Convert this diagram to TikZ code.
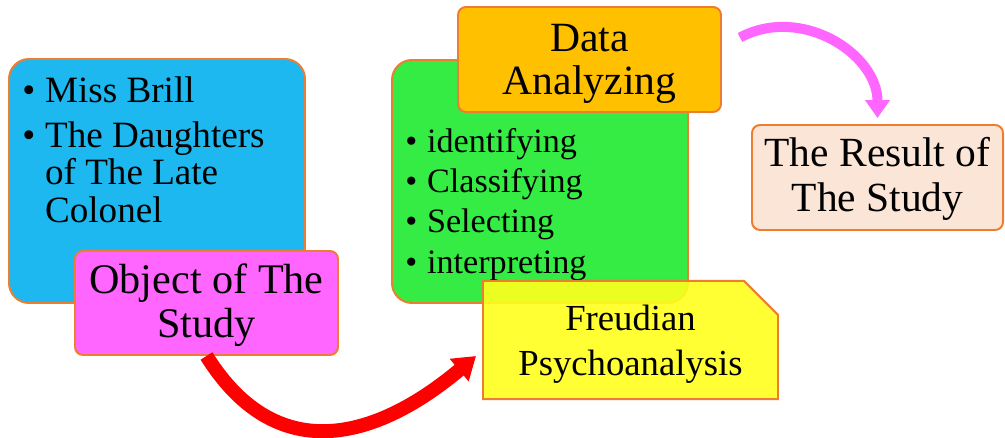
\documentclass[tikz,border=0pt]{standalone}
\usepackage{fontspec}
\setmainfont{Liberation Serif}
\usetikzlibrary{arrows.meta,shapes.misc,calc}
\definecolor{boxline}{HTML}{ED7D31}
\definecolor{skyfill}{HTML}{1CB8EF}
\definecolor{pinkfill}{HTML}{FF66FF}
\definecolor{greenfill}{HTML}{35EC44}
\definecolor{amberfill}{HTML}{FFC000}
\definecolor{lemonfill}{HTML}{FFFF1E}
\definecolor{peachfill}{HTML}{FBE5D6}

\begin{document}
\begin{tikzpicture}[
  listbox/.style={draw=boxline, line width=1.4pt, rounded corners=0.5cm},
  titlebox/.style={draw=boxline, line width=1.4pt, rounded corners=0.2cm, align=center, inner sep=0pt},
  items/.style={anchor=north west, inner sep=0pt, align=left},
  redflow/.style={-{Triangle[length=0.55cm, width=0.7cm]}, line width=0.35cm, red},
  pinkflow/.style={-{Triangle[length=0.45cm, width=0.6cm]}, line width=0.25cm, pinkfill},
]
  \useasboundingbox (0,0) rectangle (25.125,10.95);

  % Left: objects of the study
  \node[listbox, fill=skyfill, minimum width=7.4cm, minimum height=6.1cm] (objects) at (3.925,6.425) {};
  \node[items, font=\fontsize{26.4}{27}\selectfont] (objlist) at (0.55,9.07)
    {\begin{tabular}{@{}l@{\hspace{7pt}}l@{}}
      \textbullet & Miss Brill\\[0.175cm]
      \textbullet & The Daughters\\
      & of The Late\\
      & Colonel
    \end{tabular}};
  \node[titlebox, fill=pinkfill, minimum width=6.575cm, minimum height=2.6cm,
    font=\fontsize{30}{31.5}\selectfont] (object) at (5.1625,3.375) {\rule{0pt}{0.85cm}Object of The\\Study};

  % Middle: analysis steps
  \node[listbox, fill=greenfill, minimum width=7.4cm, minimum height=6.075cm] (steps) at (13.5,6.4125) {};
  \node[items, font=\fontsize{24.3}{28.7}\selectfont] (steplist) at (10.125,7.86)
    {\begin{tabular}{@{}l@{\hspace{7pt}}l@{}}
      \textbullet & identifying\\
      \textbullet & Classifying\\
      \textbullet & Selecting\\
      \textbullet & interpreting
    \end{tabular}};
  \node[titlebox, fill=amberfill, minimum width=6.575cm, minimum height=2.625cm,
    font=\fontsize{29.6}{30.8}\selectfont] (analyzing) at (14.7375,9.4625) {\rule{0pt}{0.9cm}Data\\Analyzing};
  \node[draw=boxline, line width=1.4pt, fill=lemonfill, fill opacity=0.9, text opacity=1,
    chamfered rectangle, chamfered rectangle corners=north east,
    chamfered rectangle xsep=0.45cm, chamfered rectangle ysep=0.4cm, inner sep=0pt,
    minimum width=7.375cm, minimum height=2.85cm, align=center,
    font=\fontsize{26.1}{31.5}\selectfont] (freud) at (15.7625,2.45) {\rule{0pt}{0.85cm}Freudian\\Psychoanalysis};

  % Right: result
  \node[titlebox, fill=peachfill, minimum width=6.275cm, minimum height=2.625cm,
    font=\fontsize{29.5}{32}\selectfont] (result) at (21.9375,6.5125) {\rule{0pt}{0.8cm}The Result of\\The Study};

  % Curved flows
  \coordinate (redend) at ($(freud.west)+(-0.15,-0.4)$);
  \draw[redflow] (object.south) to[out=-58, in=-140, looseness=1.25] (redend);
  \coordinate (pinkstart) at ($(analyzing.east)+(0.45,0.55)$);
  \draw[pinkflow, shorten >=0.15cm] (pinkstart) to[out=28, in=90, looseness=1.1] (result.north);
\end{tikzpicture}
\end{document}
